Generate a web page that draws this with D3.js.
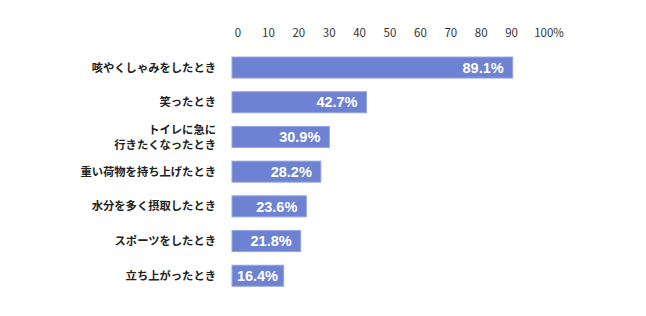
<!DOCTYPE html>
<html>
<head>
<meta charset="utf-8">
<script src="https://cdn.jsdelivr.net/npm/d3@7"></script>
<style>
  body { margin: 0; background: #fff; }
  svg { display: block; }
</style>
</head>
<body>
<div id="chart"></div>
<script>
// data
const categories = [
  '咳やくしゃみをしたとき',
  '笑ったとき',
  'トイレに急に\n行きたくなったとき',
  '重い荷物を持ち上げたとき',
  '水分を多く摂取したとき',
  'スポーツをしたとき',
  '立ち上がったとき'
];
const values = [89.1, 42.7, 30.9, 28.2, 23.6, 21.8, 16.4];
const tickValues = [0, 10, 20, 30, 40, 50, 60, 70, 80, 90, 100];
const tickLabels = ['0', '10', '20', '30', '40', '50', '60', '70', '80', '90', '100%'];

const width = 646, height = 316;
const jpFont = '"Noto Sans CJK JP", "Noto Sans", sans-serif';

const svg = d3.select('#chart').append('svg')
    .attr('width', width)
    .attr('height', height);

const x = d3.scaleLinear().domain([0, 100]).range([232, 547]);
// tick labels sit a little off the bar scale in the original
const xTick = d3.scaleLinear().domain([0, 100]).range([238, 542]);
const y = d3.scaleBand().domain(categories)
    .range([50.2, 293.1])
    .paddingInner(0.395)
    .paddingOuter(0.1975);

// top tick labels
svg.append('g')
    .selectAll('text')
    .data(tickValues)
    .enter().append('text')
    .attr('x', d => xTick(d) + (d === 100 ? 7 : 0))
    .attr('y', 37)
    .attr('text-anchor', 'middle')
    .style('font-family', jpFont)
    .style('font-size', '11.5px')
    .style('fill', '#333')
    .text((d, i) => tickLabels[i]);

const rows = svg.append('g')
    .selectAll('g')
    .data(categories.map((c, i) => ({ cat: c, val: values[i] })))
    .enter().append('g');

rows.append('rect')
    .attr('x', x(0))
    .attr('y', d => y(d.cat))
    .attr('width', d => x(d.val) - x(0))
    .attr('height', y.bandwidth())
    .style('fill', '#6e82d3')
    .style('stroke', '#93a3e2')
    .style('stroke-width', 1);

// value labels inside bars
rows.append('text')
    .attr('x', d => Math.max(x(d.val) - 9, x(0) + 46))
    .attr('y', d => y(d.cat) + y.bandwidth() / 2)
    .attr('dy', '0.36em')
    .attr('text-anchor', 'end')
    .style('font-family', '"Liberation Sans", Arial, sans-serif')
    .style('font-weight', 'bold')
    .style('font-size', '14.5px')
    .style('fill', '#fff')
    .text(d => d.val.toFixed(1) + '%');

// category labels, right aligned
rows.append('text')
    .attr('text-anchor', 'end')
    .attr('y', d => y(d.cat) + y.bandwidth() / 2)
    .style('font-family', jpFont)
    .style('font-weight', 'bold')
    .style('font-size', '11.3px')
    .style('fill', '#222')
    .each(function (d) {
        const lines = d.cat.split('\n');
        const t = d3.select(this);
        lines.forEach((ln, i) => {
            t.append('tspan')
                .attr('x', 216)
                .attr('dy', i === 0 ? (lines.length > 1 ? '-0.3em' : '0.36em') : '1.35em')
                .text(ln);
        });
    });
</script>
</body>
</html>
